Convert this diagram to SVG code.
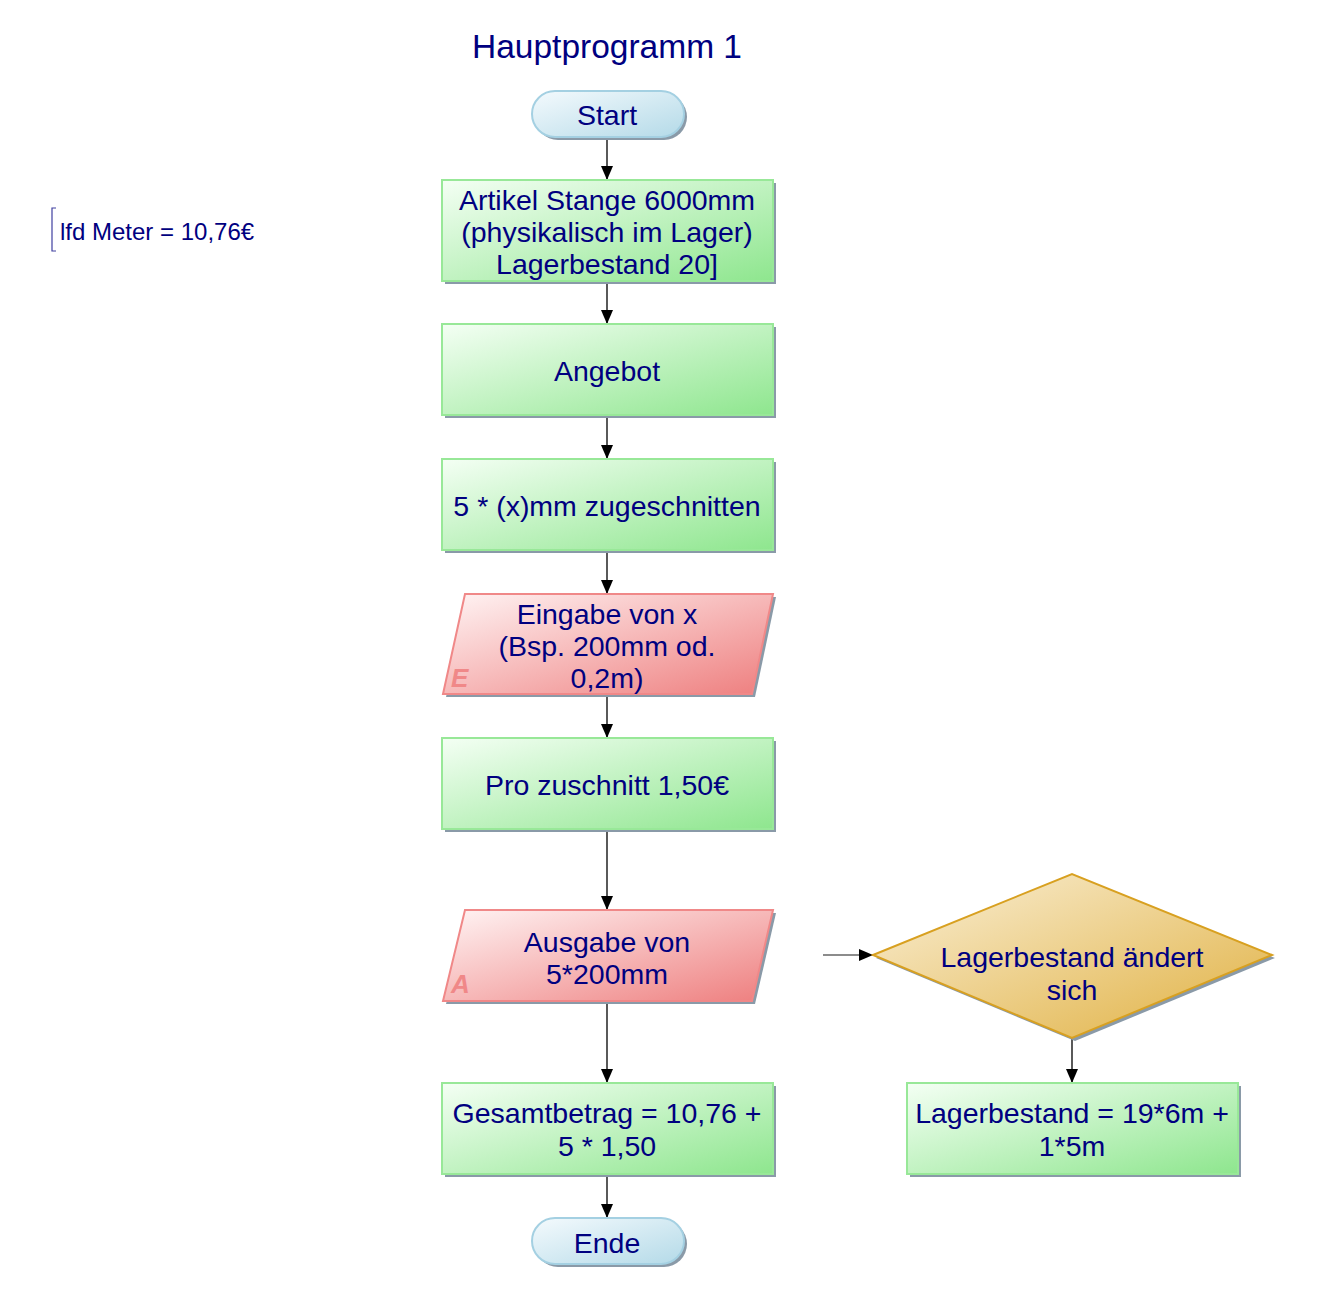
<svg xmlns="http://www.w3.org/2000/svg" width="1323" height="1308" viewBox="0 0 1323 1308">
<defs>
<linearGradient id="gGreen" x1="0" y1="0" x2="1" y2="1"><stop offset="0" stop-color="#f4fff4"/><stop offset="1" stop-color="#8ee68e"/></linearGradient>
<linearGradient id="gRed" x1="0" y1="0" x2="1" y2="1"><stop offset="0" stop-color="#fff4f4"/><stop offset="1" stop-color="#ee7e7e"/></linearGradient>
<linearGradient id="gGold" x1="0" y1="0" x2="1" y2="1"><stop offset="0" stop-color="#faf0d8"/><stop offset="1" stop-color="#e0b040"/></linearGradient>
<linearGradient id="gBlue" x1="0" y1="0" x2="1" y2="1"><stop offset="0" stop-color="#f4fafd"/><stop offset="1" stop-color="#b4dae8"/></linearGradient>
<marker id="arr" viewBox="0 0 14 12" refX="14" refY="6" markerWidth="14" markerHeight="12" markerUnits="userSpaceOnUse" orient="auto"><path d="M0,0 L14,6 L0,12 Z" fill="#000"/></marker>
</defs>
<style>
text{font-family:"Liberation Sans",Arial,sans-serif;fill:#000080;font-size:28.5px;text-anchor:middle}
.sh{fill:#8a9aa8}
.box{fill:url(#gGreen);stroke:#98e898;stroke-width:2}
.io{fill:url(#gRed);stroke:#f08888;stroke-width:2}
.dec{fill:url(#gGold);stroke:#d8a020;stroke-width:2}
.term{fill:url(#gBlue);stroke:#a4d0e2;stroke-width:2}
.tag{font-style:italic;font-weight:bold;fill:#f08888;font-size:26px;text-anchor:start}
.c{stroke:#000;stroke-width:1.3;fill:none;marker-end:url(#arr)}
</style>
<rect width="1323" height="1308" fill="#fff"/>
<text id="title" x="607" y="58" style="font-size:33.5px">Hauptprogramm 1</text>
<g id="note">
<path d="M56,208 L52,208 L52,251 L56,251" fill="none" stroke="#4040a0" stroke-width="1.2"/>
<text x="60" y="240" style="font-size:24px;text-anchor:start">lfd Meter = 10,76€</text>
</g>
<g id="connectors">
<line class="c" x1="607" y1="137" x2="607" y2="180"/>
<line class="c" x1="607" y1="281" x2="607" y2="324"/>
<line class="c" x1="607" y1="415" x2="607" y2="459"/>
<line class="c" x1="607" y1="550" x2="607" y2="594"/>
<line class="c" x1="607" y1="694" x2="607" y2="738"/>
<line class="c" x1="607" y1="829" x2="607" y2="910"/>
<line class="c" x1="607" y1="1001" x2="607" y2="1083"/>
<line class="c" x1="607" y1="1174" x2="607" y2="1218"/>
<line class="c" x1="823" y1="955" x2="873" y2="955" style="stroke:#666"/>
<line class="c" x1="1072" y1="1038" x2="1072" y2="1083"/>
</g>
<g id="start">
<rect class="sh" x="535" y="94" width="152" height="46" rx="23"/>
<rect class="term" x="532" y="91" width="152" height="46" rx="23"/>
<text x="607" y="125">Start</text>
</g>
<g id="artikel">
<rect class="sh" x="445" y="183" width="331" height="101"/>
<rect class="box" x="442" y="180" width="331" height="101"/>
<text x="607" y="210">Artikel Stange 6000mm</text>
<text x="607" y="242">(physikalisch im Lager)</text>
<text x="607" y="274">Lagerbestand 20]</text>
</g>
<g id="angebot">
<rect class="sh" x="445" y="327" width="331" height="91"/>
<rect class="box" x="442" y="324" width="331" height="91"/>
<text x="607" y="381">Angebot</text>
</g>
<g id="zuschnitt">
<rect class="sh" x="445" y="462" width="331" height="91"/>
<rect class="box" x="442" y="459" width="331" height="91"/>
<text x="607" y="516">5 * (x)mm zugeschnitten</text>
</g>
<g id="eingabe">
<polygon class="sh" points="468,597 776,597 755,697 446,697"/>
<polygon class="io" points="465,594 773,594 752,694 443,694"/>
<text class="tag" x="451" y="687">E</text>
<text x="607" y="624">Eingabe von x</text>
<text x="607" y="656">(Bsp. 200mm od.</text>
<text x="607" y="688">0,2m)</text>
</g>
<g id="pro">
<rect class="sh" x="445" y="741" width="331" height="91"/>
<rect class="box" x="442" y="738" width="331" height="91"/>
<text x="607" y="795">Pro zuschnitt 1,50€</text>
</g>
<g id="ausgabe">
<polygon class="sh" points="468,913 776,913 755,1004 446,1004"/>
<polygon class="io" points="465,910 773,910 752,1001 443,1001"/>
<text class="tag" x="451" y="993">A</text>
<text x="607" y="952">Ausgabe von</text>
<text x="607" y="984">5*200mm</text>
</g>
<g id="gesamt">
<rect class="sh" x="445" y="1086" width="331" height="91"/>
<rect class="box" x="442" y="1083" width="331" height="91"/>
<text x="607" y="1123">Gesamtbetrag = 10,76 +</text>
<text x="607" y="1156">5 * 1,50</text>
</g>
<g id="ende">
<rect class="sh" x="535" y="1221" width="152" height="46" rx="23"/>
<rect class="term" x="532" y="1218" width="152" height="46" rx="23"/>
<text x="607" y="1253">Ende</text>
</g>
<g id="decision">
<polygon class="sh" points="876,958 1075,877 1275,958 1075,1041"/>
<polygon class="dec" points="873,955 1072,874 1272,955 1072,1038"/>
<text x="1072" y="967">Lagerbestand ändert</text>
<text x="1072" y="1000">sich</text>
</g>
<g id="lager">
<rect class="sh" x="910" y="1086" width="331" height="91"/>
<rect class="box" x="907" y="1083" width="331" height="91"/>
<text x="1072" y="1123">Lagerbestand = 19*6m +</text>
<text x="1072" y="1156">1*5m</text>
</g>
</svg>
